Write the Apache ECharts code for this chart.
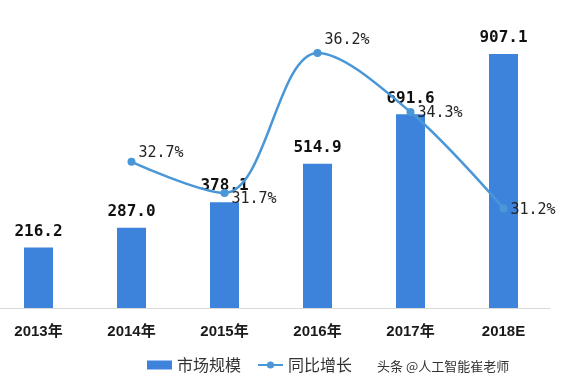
<!DOCTYPE html>
<html><head><meta charset="utf-8">
<script src="https://cdn.jsdelivr.net/npm/echarts@6/dist/echarts.min.js"></script>
<style>html,body{margin:0;padding:0;background:#fff;overflow:hidden;width:571px;height:387px;position:relative}#c{position:absolute;left:-10px;top:0;width:581px;height:387px}</style>
</head><body><div id="c"></div>
<script>
const categories = ['2013年','2014年','2015年','2016年','2017年','2018E'];
const marketSize = [216.2, 287.0, 378.1, 514.9, 691.6, 907.1];
const growth = [null, 32.7, 31.7, 36.2, 34.3, 31.2];
const seriesNames = ['市场规模', '同比增长'];

const growthLabelOffsets = [null, [0,-9], [0,6], [0,-13], [0,1], [0,2]];

const chart = echarts.init(document.getElementById('c'));
chart.setOption({
  animation: false,
  backgroundColor: '#fff',
  grid: { left: 2, right: 21, top: 28, bottom: 79, containLabel: false },
  legend: {
    bottom: 9, left: 152,
    itemWidth: 25, itemHeight: 9, itemGap: 16,
    textStyle: { fontSize: 16, color: '#333', fontFamily: 'Noto Sans CJK SC' },
    data: [
      { name: seriesNames[0], icon: 'rect' },
      { name: seriesNames[1] }
    ]
  },
  xAxis: {
    type: 'category', data: categories,
    axisLine: { lineStyle: { color: '#d9d9d9' } },
    axisTick: { show: false },
    axisLabel: { margin: 16, fontSize: 15, fontWeight: 'bold', color: '#1a1a1a', fontFamily: 'Liberation Sans, Noto Sans CJK SC' }
  },
  yAxis: [
    { type: 'value', min: 0, max: 1000, show: false, splitLine: { show: false } },
    { type: 'value', min: 28, max: 37, show: false, splitLine: { show: false } }
  ],
  series: [
    {
      name: seriesNames[0], type: 'bar', data: marketSize, barWidth: 29,
      itemStyle: { color: '#3d83dc' },
      label: {
        show: true, position: 'top', distance: 8,
        formatter: p => p.value.toFixed(1),
        fontSize: 16, fontWeight: 'bold', color: '#111', fontFamily: 'DejaVu Sans Mono'
      }
    },
    {
      name: seriesNames[1], type: 'line', yAxisIndex: 1, smooth: 0.35,
      data: growth.map((v, i) => v == null ? null : {
        value: v,
        label: { offset: growthLabelOffsets[i] }
      }),
      symbol: 'circle', symbolSize: 8,
      lineStyle: { color: '#4a97d8', width: 2.5 },
      itemStyle: { color: '#4a97d8' },
      label: {
        show: true, position: 'right', distance: 3,
        formatter: p => p.value.toFixed(1) + '%',
        fontSize: 15, color: '#222', fontFamily: 'DejaVu Sans Mono'
      },
      z: 5
    }
  ],
  graphic: [
    { type: 'text', left: 387, top: 360, style: { text: '头条 @人工智能崔老师', fontSize: 13, fill: '#333', fontFamily: 'Noto Sans CJK SC' } }
  ]
});
</script></body></html>
